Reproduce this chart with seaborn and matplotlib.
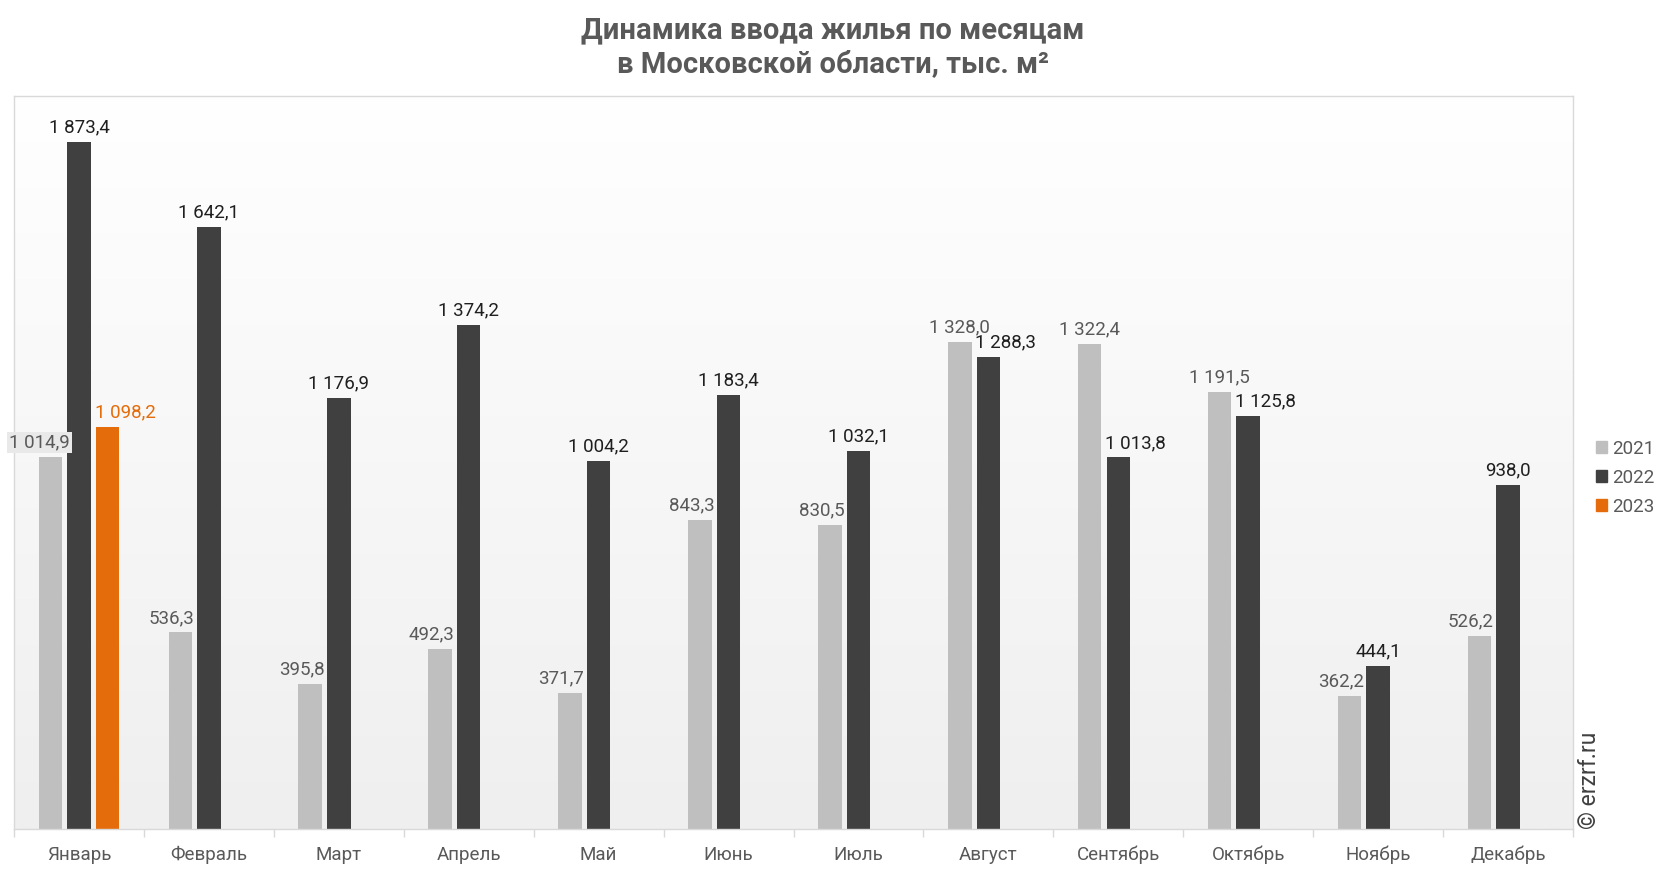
import numpy as np
import pandas as pd
import matplotlib
matplotlib.use("Agg")
import matplotlib.pyplot as plt
import matplotlib.patches as mpatches
from matplotlib.colors import LinearSegmentedColormap
import seaborn as sns

months = ["Январь", "Февраль", "Март", "Апрель", "Май", "Июнь",
          "Июль", "Август", "Сентябрь", "Октябрь", "Ноябрь", "Декабрь"]
years = ["2021", "2022", "2023"]
v2021 = [1014.9, 536.3, 395.8, 492.3, 371.7, 843.3, 830.5, 1328.0, 1322.4, 1191.5, 362.2, 526.2]
v2022 = [1873.4, 1642.1, 1176.9, 1374.2, 1004.2, 1183.4, 1032.1, 1288.3, 1013.8, 1125.8, 444.1, 938.0]
v2023 = [1098.2] + [np.nan] * 11
colors = {"2021": "#bfbfbf", "2022": "#404040", "2023": "#e46c0a"}
label_colors = {"2021": "#595959", "2022": "#1f1f1f", "2023": "#e46c0a"}
title = "Динамика ввода жилья по месяцам\nв Московской области, тыс. м²"

series = {"2021": v2021, "2022": v2022, "2023": v2023}
rows = []
for y in years:
    for m, v in zip(months, series[y]):
        rows.append({"month": m, "year": y, "value": v})
df = pd.DataFrame(rows)

sns.set_theme(style="white")
plt.rcParams["font.family"] = ["Roboto", "DejaVu Sans"]

W, H = 1666, 872
fig = plt.figure(figsize=(W / 100, H / 100), dpi=100)
ax = fig.add_axes([14 / W, 1 - 829 / H, (1573 - 14) / W, (829 - 96) / H])

# gradient background
grad = np.linspace(1.0, 0.0, 256).reshape(-1, 1)
cmap = LinearSegmentedColormap.from_list("bg", ["#efefef", "#ffffff"])
ax.imshow(grad, extent=[0, 1, 0, 1], transform=ax.transAxes, cmap=cmap,
          aspect="auto", zorder=0, origin="upper")

sns.barplot(data=df, x="month", y="value", hue="year", order=months,
            hue_order=years, palette=colors, width=0.66, gap=0.18,
            dodge=True, ax=ax, legend=False, saturation=1, zorder=2,
            edgecolor="none")

ax.set_xlim(-0.5, 11.5)
ax.set_ylim(0, 2000)
ax.set_xlabel("")
ax.set_ylabel("")
ax.set_yticks([])
for s in ax.spines.values():
    s.set_color("#d9d9d9")
    s.set_linewidth(1)
ax.tick_params(axis="x", length=0, pad=12, labelsize=13.5, labelcolor="#595959")
ax.set_xticks(np.arange(-0.5, 12, 1), minor=True)
ax.tick_params(axis="x", which="minor", length=6, color="#d9d9d9", width=1, bottom=True)


def fmt(v):
    return f"{v:,.1f}".replace(",", " ").replace(".", ",")


for ci, y in enumerate(years):
    cont = ax.containers[ci]
    for p in cont.patches:
        h = p.get_height()
        if np.isnan(h) or h == 0:
            continue
        xc = p.get_x() + p.get_width() / 2
        mi = int(round(xc))
        left = p.get_x()
        right = p.get_x() + p.get_width()
        ha = "center"
        xpos = xc
        bbox = None
        if y == "2021":
            if v2022[mi] > h:
                ha = "right"
                xpos = right + 0.02
                if h >= 1000:
                    xpos = right + 0.06
                    bbox = dict(boxstyle="square,pad=0.1", fc="#e9e9e9", ec="none")
        else:
            prev = v2021[mi] if y == "2022" else v2022[mi]
            if prev > h:
                ha = "left"
                xpos = left - 0.01
        ax.annotate(fmt(h), (xpos, h), xytext=(0, 4), textcoords="offset points",
                    ha=ha, va="bottom", fontsize=13.5, color=label_colors[y],
                    bbox=bbox, zorder=4)

fig.suptitle(title, x=0.5, y=0.981, fontsize=21, fontweight="bold",
             color="#595959", linespacing=1.25)

handles = [mpatches.Patch(color=colors[y], label=y) for y in years]
leg = fig.legend(handles=handles, loc="upper left",
                 bbox_to_anchor=(1588 / W, 1 - 432 / H), frameon=False,
                 fontsize=13.5, handlelength=0.6, handleheight=0.6,
                 handletextpad=0.3, labelspacing=0.6, borderaxespad=0)
for t in leg.get_texts():
    t.set_color("#595959")

fig.text(1590 / W, 1 - 829 / H, "© erzrf.ru", rotation=90, ha="center",
         va="bottom", fontsize=16.5, color="#404040")

fig.savefig("out.png", dpi=100, facecolor="white")
